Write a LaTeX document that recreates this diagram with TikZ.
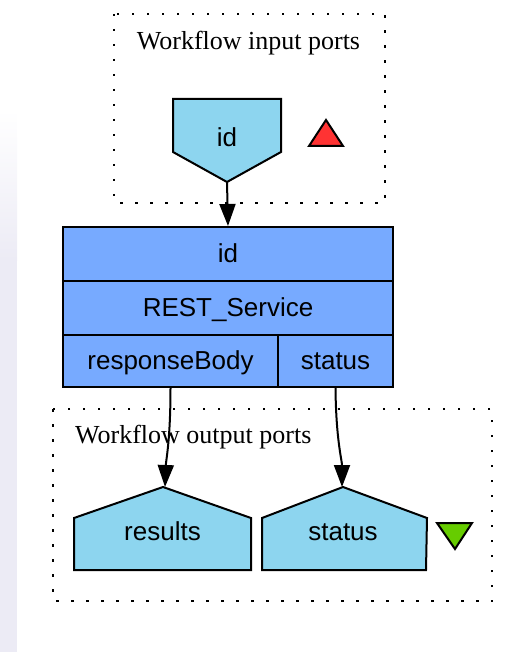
\documentclass[tikz,border=0pt]{standalone}
\usepackage{fontspec}
\setmainfont{Liberation Serif}
\setsansfont{Liberation Sans}
\usetikzlibrary{arrows.meta}
\definecolor{portfill}{HTML}{8DD5EF}
\definecolor{procfill}{HTML}{77AAFF}
\definecolor{inmark}{HTML}{FF3333}
\definecolor{outmark}{HTML}{66CC00}
\definecolor{sidebar}{HTML}{ECEBF5}

\begin{document}
\begin{tikzpicture}[x=1pt,y=-1pt,
  lbl/.style={font=\fontsize{26}{30}\selectfont\sffamily, inner sep=0pt},
  ttl/.style={font=\fontsize{26}{30}\selectfont\rmfamily, inner sep=0pt},
  cluster/.style={line width=2.5pt, dash pattern=on 2.5pt off 12.5pt},
  portshape/.style={draw, fill=portfill, line width=2pt, line join=miter},
  marker/.style={draw, line width=2pt, line join=miter},
  cell/.style={draw, line width=2pt, fill=procfill, lbl,
               text height=20pt, text depth=4pt},
  flow/.style={line width=2pt, -{Triangle[length=22pt,width=16pt]}},
]
\useasboundingbox (0,0) rectangle (513,652);

% window side bar
\fill[sidebar] (0,260) rectangle (17,652);
\shade[top color=white, bottom color=sidebar] (0,110) rectangle (17,260);

% clusters
\draw[cluster] (114,14) rectangle (385,203);
\node[ttl, anchor=base] (intitle) at (248.5,50) {Workflow input ports};
\draw[cluster] (53,409) rectangle (492,601);
\node[ttl, anchor=base west] (outtitle) at (75,443) {Workflow output ports};

% workflow input port
\coordinate (idtip) at (227,182);
\path[portshape] (173,99) -- (281,99) -- (281,152) -- (idtip) -- (173,152) -- cycle;
\node[lbl, anchor=base] (inid) at (227,147) {id};
\path[marker, fill=inmark] (309,146) -- (326,120) -- (343,146) -- cycle;

% processor
\node[cell, minimum width=330pt, minimum height=54pt] (sid) at (228,254) {id};
\node[cell, minimum width=330pt, minimum height=54pt] (sname) at (228,308) {REST\_Service};
\node[cell, minimum width=215pt, minimum height=52pt] (sresp) at (170.5,361) {responseBody};
\node[cell, minimum width=115pt, minimum height=52pt] (sstat) at (335.5,361) {status};

% workflow output ports
\coordinate (restip) at (165,487);
\coordinate (stattip) at (342,487);
\path[portshape] (74,518) -- (163,487) -- (251,518) -- (251,570) -- (74,570) -- cycle;
\node[lbl, anchor=base] (outres) at (162.5,540) {results};
\path[portshape] (262,518) -- (343,487) -- (427,518) -- (426,570) -- (262,570) -- cycle;
\node[lbl, anchor=base] (outstat) at (343,540) {status};
\path[marker, fill=outmark] (437,523) -- (472,523) -- (455,549) -- cycle;

% data links
\draw[flow] (idtip) -- (sid.north);
\draw[flow] (sresp.south) .. controls (170.5,440) and (166,460) .. (restip);
\draw[flow] (sstat.south) .. controls (336,440) and (342,460) .. (stattip);
\end{tikzpicture}
\end{document}
